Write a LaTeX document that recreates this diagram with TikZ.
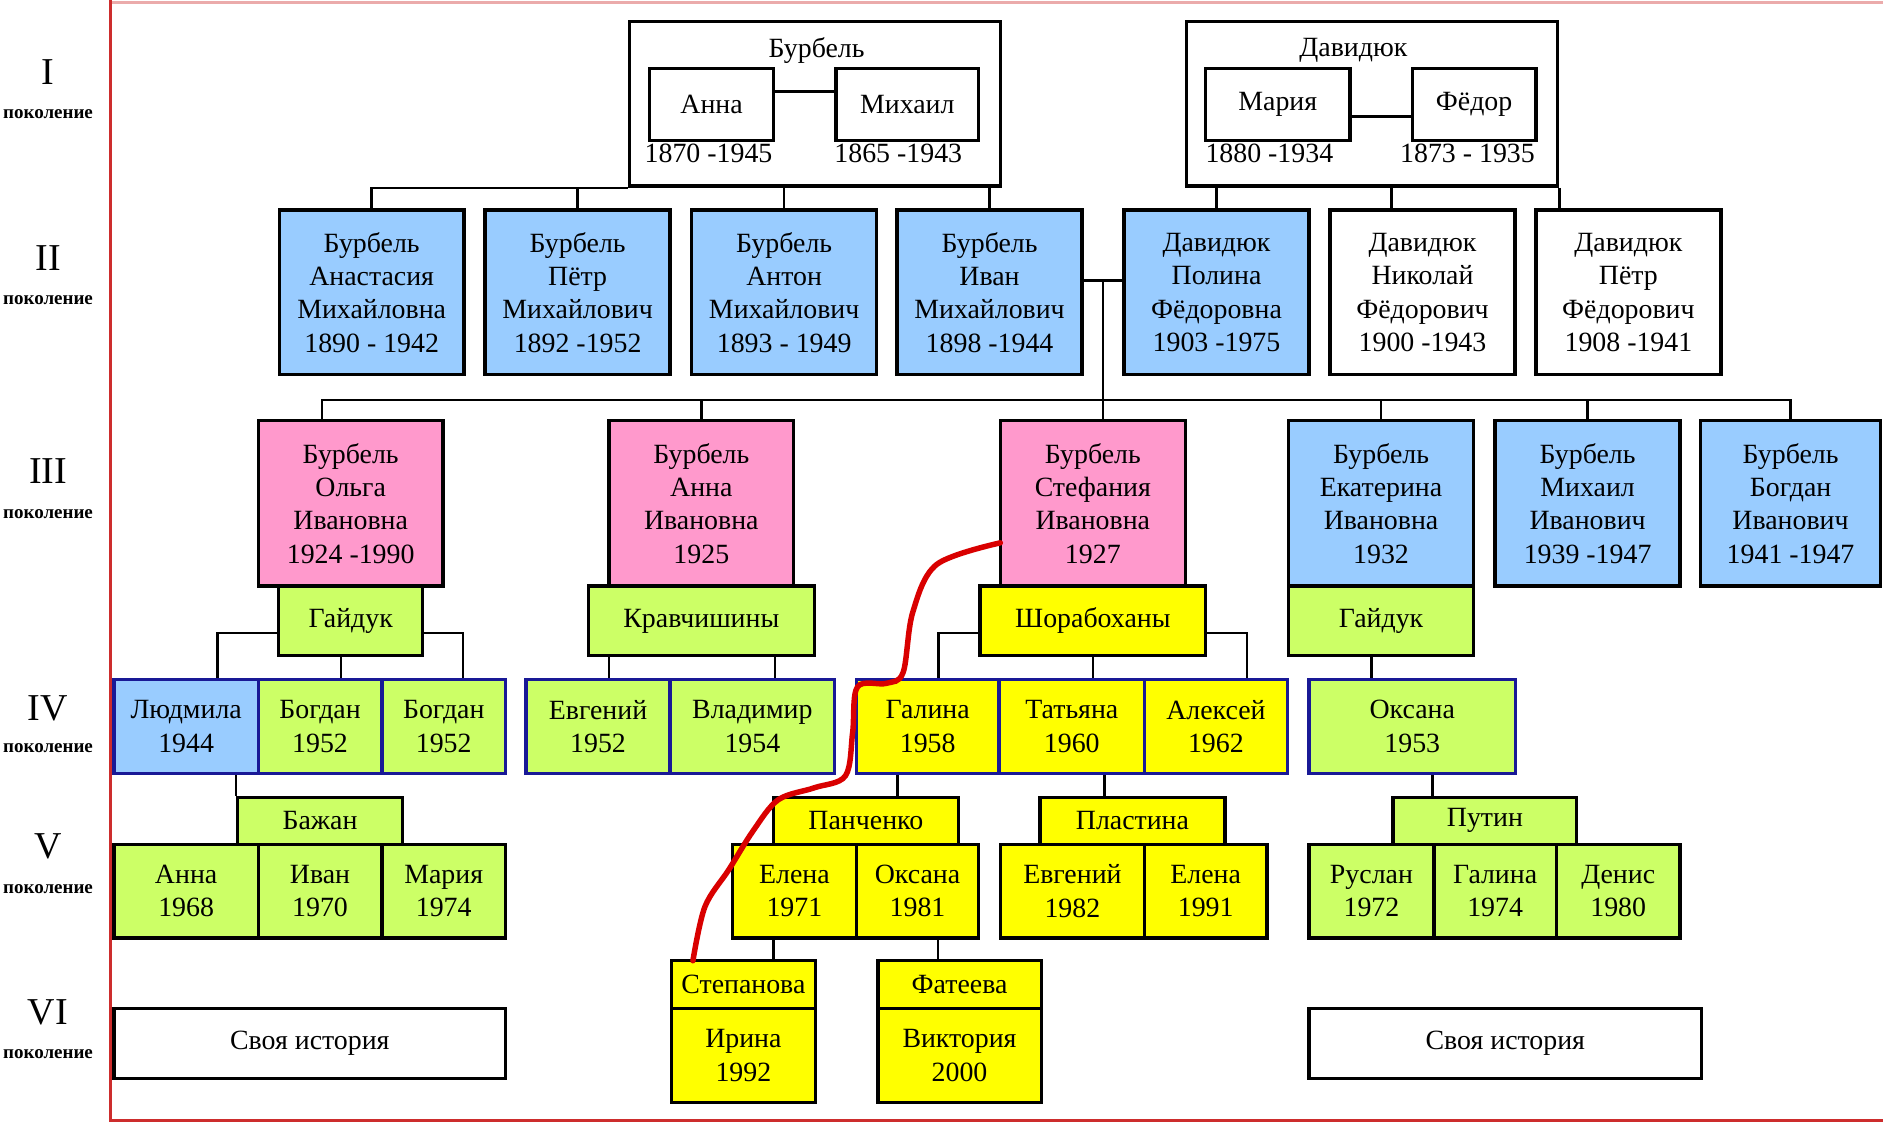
\documentclass[tikz,border=0pt]{standalone}
\usepackage{fontspec}
\setmainfont{Liberation Serif}
\usetikzlibrary{calc}
\definecolor{pblue}{RGB}{153,204,255}
\definecolor{ppink}{RGB}{255,153,204}
\definecolor{pgreen}{RGB}{204,255,102}
\definecolor{pyellow}{RGB}{255,255,0}
\definecolor{navy}{RGB}{25,25,150}
\definecolor{slidered}{RGB}{205,45,45}
\newcommand{\namefont}{\fontsize{6.6}{7.9}\selectfont}

\begin{document}
\begin{tikzpicture}[
    box/.style={rectangle, draw=black, line width=0.8pt, inner sep=0pt, align=center, font=\namefont},
    size/.style 2 args={minimum width=#1cm, minimum height=#2cm},
    whitebox/.style={box, fill=white},
    bluebox/.style={box, fill=pblue},
    pinkbox/.style={box, fill=ppink},
    greenbox/.style={box, fill=pgreen},
    yellowbox/.style={box, fill=pyellow},
    kid/.style={draw=navy},
    link/.style={line width=0.6pt},
    gen/.style={font=\fontsize{9}{9}\selectfont},
    genword/.style={font=\fontsize{4.5}{5}\selectfont\bfseries},
    plain/.style={font=\namefont, inner sep=0pt}
]
\useasboundingbox[fill=white] (0,0) rectangle (15.68,-9.37);

% Slide frame
\draw[slidered!40, line width=0.6pt] (0.92,-0.02) -- (15.68,-0.02);
\draw[slidered, line width=0.7pt] (0.92,0) -- (0.92,-9.33) -- (15.68,-9.33);

% Generation labels
\node[gen] (g1) at (0.40,-0.60) {I};
\node[genword] (g1w) at (0.40,-0.95) {поколение};
\node[gen] (g2) at (0.40,-2.15) {II};
\node[genword] (g2w) at (0.40,-2.50) {поколение};
\node[gen] (g3) at (0.40,-3.92) {III};
\node[genword] (g3w) at (0.40,-4.28) {поколение};
\node[gen] (g4) at (0.40,-5.90) {IV};
\node[genword] (g4w) at (0.40,-6.23) {поколение};
\node[gen] (g5) at (0.40,-7.05) {V};
\node[genword] (g5w) at (0.40,-7.40) {поколение};
\node[gen] (g6) at (0.40,-8.43) {VI};
\node[genword] (g6w) at (0.40,-8.78) {поколение};

% Generation I
\node[whitebox, size={3.09}{1.37}] (burb) at (6.785,-0.865) {};
\node[plain] (burbt) at (6.80,-0.42) {Бурбель};
\node[whitebox, size={1.03}{0.60}] (anna1) at (5.925,-0.87) {Анна};
\node[whitebox, size={1.19}{0.60}] (mikh1) at (7.555,-0.87) {Михаил};
\node[plain] (anna1d) at (5.90,-1.28) {1870 -1945};
\node[plain] (mikh1d) at (7.48,-1.28) {1865 -1943};

\node[whitebox, size={3.09}{1.37}] (dav) at (11.425,-0.865) {};
\node[plain] (davt) at (11.27,-0.42) {Давидюк};
\node[whitebox, size={1.20}{0.60}] (maria1) at (10.64,-0.87) {Мария};
\node[whitebox, size={1.03}{0.60}] (fedor1) at (12.275,-0.87) {Фёдор};
\node[plain] (maria1d) at (10.57,-1.28) {1880 -1934};
\node[plain] (fedor1d) at (12.22,-1.28) {1873 - 1935};

\draw[link] ([yshift=1.1mm]anna1.east) -- ([yshift=1.1mm]mikh1.west);
\draw[link] ([yshift=-1mm]maria1.east) -- ([yshift=-1mm]fedor1.west);

% Generation II
\node[bluebox, size={1.54}{1.37}] (nastya) at (3.095,-2.435) {Бурбель\\Анастасия\\Михайловна\\1890 - 1942};
\node[bluebox, size={1.54}{1.37}] (petr) at (4.81,-2.435) {Бурбель\\Пётр\\Михайлович\\1892 -1952};
\node[bluebox, size={1.54}{1.37}] (anton) at (6.53,-2.435) {Бурбель\\Антон\\Михайлович\\1893 - 1949};
\node[bluebox, size={1.54}{1.37}] (ivan) at (8.24,-2.435) {Бурбель\\Иван\\Михайлович\\1898 -1944};
\node[bluebox, size={1.54}{1.37}] (polina) at (10.13,-2.435) {Давидюк\\Полина\\Фёдоровна\\1903 -1975};
\node[whitebox, size={1.54}{1.37}] (nikolai) at (11.845,-2.435) {Давидюк\\Николай\\Фёдорович\\1900 -1943};
\node[whitebox, size={1.54}{1.37}] (petrd) at (13.56,-2.435) {Давидюк\\Пётр\\Фёдорович\\1908 -1941};

\draw[link] (burb.south west) -| (nastya.north);
\draw[link] (petr.north) -- (petr.north |- burb.south);
\draw[link] (anton.north) -- (anton.north |- burb.south);
\draw[link] (ivan.north) -- (ivan.north |- burb.south);
\draw[link] (polina.north) -- (polina.north |- dav.south);
\draw[link] ([xshift=-2.6mm]nikolai.north) -- ([xshift=-2.6mm]nikolai.north |- dav.south);
\draw[link] (dav.south east) -- (dav.south east |- petrd.north);

% Generation III
\node[pinkbox, size={1.54}{1.38}] (olga) at (2.92,-4.19) {Бурбель\\Ольга\\Ивановна\\1924 -1990};
\node[pinkbox, size={1.54}{1.38}] (anna3) at (5.84,-4.19) {Бурбель\\Анна\\Ивановна\\1925};
\node[pinkbox, size={1.54}{1.38}] (stef) at (9.10,-4.19) {Бурбель\\Стефания\\Ивановна\\1927};
\node[bluebox, size={1.54}{1.38}] (kate) at (11.50,-4.19) {Бурбель\\Екатерина\\Ивановна\\1932};
\node[bluebox, size={1.54}{1.38}] (mikhail) at (13.22,-4.19) {Бурбель\\Михаил\\Иванович\\1939 -1947};
\node[bluebox, size={1.50}{1.38}] (bogdan) at (14.91,-4.19) {Бурбель\\Богдан\\Иванович\\1941 -1947};

\coordinate (ip) at ($([yshift=1mm]ivan.east)!0.5!([yshift=1mm]polina.west)$);
\coordinate (bus3) at (0,-3.33);
\draw[link] ([yshift=1mm]ivan.east) -- ([yshift=1mm]polina.west);
\draw[link] (ip) -- (ip |- stef.north);
\draw[link] ([xshift=-2.4mm]olga.north) -- ([xshift=-2.4mm]olga.north |- bus3) -- (bogdan.north |- bus3) -- (bogdan.north);
\draw[link] (anna3.north) -- (anna3.north |- bus3);
\draw[link] (kate.north) -- (kate.north |- bus3);
\draw[link] (mikhail.north) -- (mikhail.north |- bus3);

% Spouses of generation III
\node[greenbox, size={1.20}{0.58}] (gaid1) at (2.92,-5.17) {Гайдук};
\node[greenbox, size={1.88}{0.58}] (krav) at (5.84,-5.17) {Кравчишины};
\node[yellowbox, size={1.88}{0.58}] (shor) at (9.10,-5.17) {Шорабоханы};
\node[greenbox, size={1.54}{0.58}] (gaid2) at (11.50,-5.17) {Гайдук};

% Generation IV
\node[bluebox, kid, size={1.20}{0.78}] (lyuda) at (1.55,-6.05) {Людмила\\1944};
\node[greenbox, kid, size={1.03}{0.78}] (bogd1) at (2.665,-6.05) {Богдан\\1952};
\node[greenbox, kid, size={1.03}{0.78}] (bogd2) at (3.695,-6.05) {Богдан\\1952};
\node[greenbox, kid, size={1.20}{0.78}] (evg) at (4.98,-6.05) {Евгений\\1952};
\node[greenbox, kid, size={1.37}{0.78}] (vlad) at (6.265,-6.05) {Владимир\\1954};
\node[yellowbox, kid, size={1.19}{0.78}] (galina) at (7.725,-6.05) {Галина\\1958};
\node[yellowbox, kid, size={1.21}{0.78}] (tanya) at (8.925,-6.05) {Татьяна\\1960};
\node[yellowbox, kid, size={1.19}{0.78}] (alex) at (10.125,-6.05) {Алексей\\1962};
\node[greenbox, kid, size={1.72}{0.78}] (oksana) at (11.76,-6.05) {Оксана\\1953};

\draw[link] ([yshift=-1mm]gaid1.west) -| ([xshift=2.6mm]lyuda.north);
\draw[link] ([xshift=-0.8mm]gaid1.south) -- ([xshift=-0.8mm]gaid1.south |- bogd1.north);
\draw[link] ([yshift=-1mm]gaid1.east) -| ([xshift=1.6mm]bogd2.north);
\draw[link] ([xshift=0.9mm]evg.north) -- ([xshift=0.9mm]evg.north |- krav.south);
\draw[link] ([xshift=1.9mm]vlad.north) -- ([xshift=1.9mm]vlad.north |- krav.south);
\draw[link] ([yshift=-1mm]shor.west) -| ([xshift=0.9mm]galina.north);
\draw[link] (shor.south) -- (shor.south |- tanya.north);
\draw[link] ([yshift=-1mm]shor.east) -| ([xshift=2.6mm]alex.north);
\draw[link] ([xshift=-0.8mm]gaid2.south) -- ([xshift=-0.8mm]gaid2.south |- oksana.north);

% Spouses of generation IV
\node[greenbox, size={1.37}{0.39}] (bazh) at (2.665,-6.835) {Бажан};
\node[yellowbox, size={1.54}{0.39}] (panch) at (7.21,-6.835) {Панченко};
\node[yellowbox, size={1.54}{0.39}] (plast) at (9.43,-6.835) {Пластина};
\node[greenbox, size={1.53}{0.39}] (putin) at (12.365,-6.835) {Путин};

\draw[link] (bazh.north west) -- (bazh.north west |- lyuda.south);
\draw[link] ([xshift=-2.5mm]galina.south) -- ([xshift=-2.5mm]galina.south |- panch.north);
\draw[link] ([xshift=2.7mm]tanya.south) -- ([xshift=2.7mm]tanya.south |- plast.north);
\draw[link] ([xshift=1.7mm]oksana.south) -- ([xshift=1.7mm]oksana.south |- putin.north);

% Generation V
\node[greenbox, size={1.20}{0.78}] (anna5) at (1.55,-7.42) {Анна\\1968};
\node[greenbox, size={1.03}{0.78}] (ivan5) at (2.665,-7.42) {Иван\\1970};
\node[greenbox, size={1.03}{0.78}] (maria5) at (3.695,-7.42) {Мария\\1974};
\node[yellowbox, size={1.03}{0.78}] (elena5) at (6.615,-7.42) {Елена\\1971};
\node[yellowbox, size={1.02}{0.78}] (oks5) at (7.64,-7.42) {Оксана\\1981};
\node[yellowbox, size={1.20}{0.78}] (evg5) at (8.93,-7.42) {Евгений\\1982};
\node[yellowbox, size={1.02}{0.78}] (elena6) at (10.04,-7.42) {Елена\\1991};
\node[greenbox, size={1.04}{0.78}] (ruslan) at (11.42,-7.42) {Руслан\\1972};
\node[greenbox, size={1.02}{0.78}] (galina5) at (12.45,-7.42) {Галина\\1974};
\node[greenbox, size={1.03}{0.78}] (denis) at (13.475,-7.42) {Денис\\1980};

% Generation VI
\node[whitebox, size={3.26}{0.58}] (story1) at (2.58,-8.69) {Своя история};
\node[yellowbox, size={1.20}{0.40}] (step) at (6.19,-8.20) {Степанова};
\node[yellowbox, size={1.20}{0.78}] (irina) at (6.19,-8.79) {Ирина\\1992};
\node[yellowbox, size={1.36}{0.40}] (fat) at (7.99,-8.20) {Фатеева};
\node[yellowbox, size={1.36}{0.78}] (vika) at (7.99,-8.79) {Виктория\\2000};
\node[whitebox, size={3.27}{0.58}] (story2) at (12.535,-8.69) {Своя история};

\draw[link] ([xshift=-1.75mm]elena5.south) -- ([xshift=-1.75mm]elena5.south |- step.north);
\draw[link] ([xshift=1.7mm]oks5.south) -- ([xshift=1.7mm]oks5.south |- fat.north);

% Red line of descent
\draw[red!85!black, line width=1.3pt, line cap=round] plot[smooth, tension=0.55] coordinates {
    (8.33,-4.52) (7.80,-4.70) (7.60,-5.10) (7.52,-5.60) (7.38,-5.69) (7.14,-5.72)
    (7.10,-6.10) (7.04,-6.46) (6.78,-6.56) (6.48,-6.66) (6.27,-6.92) (6.07,-7.24)
    (5.87,-7.55) (5.77,-8.00)};

\end{tikzpicture}
\end{document}
